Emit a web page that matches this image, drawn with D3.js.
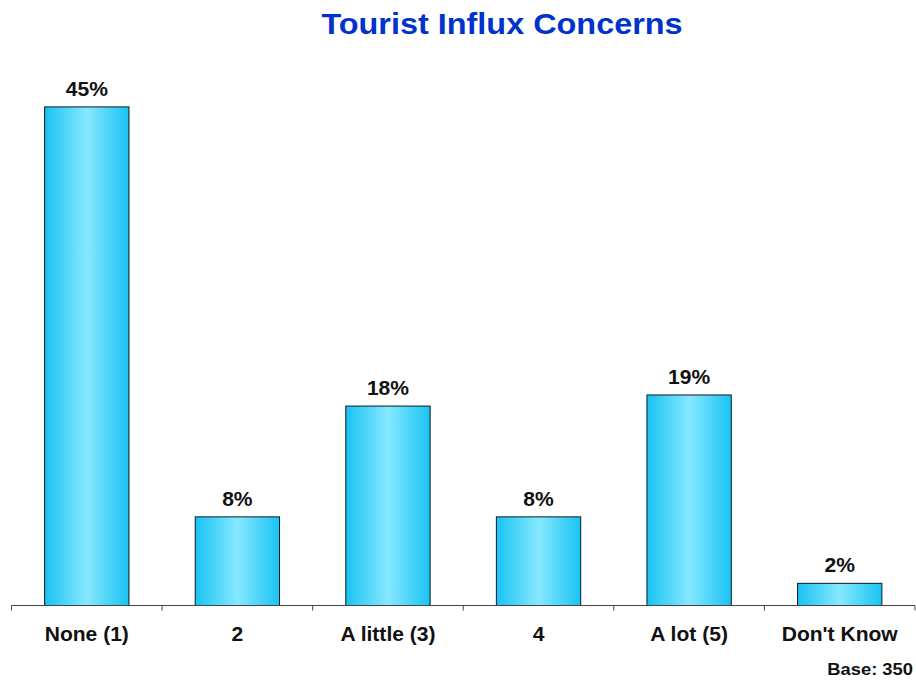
<!DOCTYPE html>
<html>
<head>
<meta charset="utf-8">
<script src="https://cdn.jsdelivr.net/npm/d3@7"></script>
<style>
  html, body { margin: 0; padding: 0; background: #fff; }
  svg { display: block; }
  text { font-family: "Liberation Sans", Arial, sans-serif; font-weight: bold; }
</style>
</head>
<body>
<svg id="chart" width="916" height="682"></svg>
<script>
// Survey responses: share of respondents by level of concern
const categories = ["None (1)", "2", "A little (3)", "4", "A lot (5)", "Don't Know"];
const values = [45, 8, 18, 8, 19, 2];
const valueLabels = ["45%", "8%", "18%", "8%", "19%", "2%"];
const title = "Tourist Influx Concerns";
const baseNote = "Base: 350";

const W = 916, H = 682;
const SX = 1.08; // slightly wide lettering
const svg = d3.select("#chart");

const x = d3.scaleBand()
  .domain(categories)
  .range([11.5, 915])
  .paddingInner(0.44)
  .paddingOuter(0.22);

const y = d3.scaleLinear()
  .domain([0, 50])
  .range([605.5, 51.5]);

// place a text element at (px, py) with horizontal stretch
const at = (px, py) => `translate(${px},${py}) scale(${SX},1)`;

// Horizontal cyan gradient for bars: saturated edges, light centre
const defs = svg.append("defs");
const grad = defs.append("linearGradient")
  .attr("id", "barGrad")
  .attr("x1", "0%").attr("x2", "100%")
  .attr("y1", "0%").attr("y2", "0%");
grad.append("stop").attr("offset", "0%").attr("stop-color", "#19c3f3");
grad.append("stop").attr("offset", "50%").attr("stop-color", "#86e8ff");
grad.append("stop").attr("offset", "100%").attr("stop-color", "#19c3f3");

// Title
svg.append("text")
  .attr("transform", at(502, 34))
  .attr("text-anchor", "middle")
  .attr("fill", "#0033cc")
  .style("font-size", "30px")
  .text(title);

// Bars
svg.selectAll("rect.bar")
  .data(categories)
  .join("rect")
  .attr("class", "bar")
  .attr("x", d => x(d))
  .attr("width", x.bandwidth())
  .attr("y", (d, i) => y(values[i]))
  .attr("height", (d, i) => y(0) - y(values[i]))
  .attr("fill", "url(#barGrad)")
  .attr("stroke", "#0a1a22")
  .attr("stroke-width", 1);

// Value labels above bars
svg.selectAll("text.val")
  .data(categories)
  .join("text")
  .attr("class", "val")
  .attr("transform", (d, i) => at(x(d) + x.bandwidth() / 2, y(values[i]) - 11))
  .attr("text-anchor", "middle")
  .attr("fill", "#111")
  .style("font-size", "19.5px")
  .text((d, i) => valueLabels[i]);

// X axis: baseline with ticks at category boundaries
const axisG = svg.append("g");
axisG.append("line")
  .attr("x1", 11.5).attr("x2", 915)
  .attr("y1", y(0)).attr("y2", y(0))
  .attr("stroke", "#444").attr("stroke-width", 1);

const boundaries = d3.range(categories.length + 1).map(i => 11.5 + i * (915 - 11.5) / categories.length);
axisG.selectAll("line.tick")
  .data(boundaries)
  .join("line")
  .attr("class", "tick")
  .attr("x1", d => d).attr("x2", d => d)
  .attr("y1", y(0)).attr("y2", y(0) + 5)
  .attr("stroke", "#444").attr("stroke-width", 1);

axisG.selectAll("text.cat")
  .data(categories)
  .join("text")
  .attr("class", "cat")
  .attr("transform", d => at(x(d) + x.bandwidth() / 2, 641))
  .attr("text-anchor", "middle")
  .attr("fill", "#111")
  .style("font-size", "19.5px")
  .text(d => d);

// Sample size note
svg.append("text")
  .attr("transform", at(913, 675))
  .attr("text-anchor", "end")
  .attr("fill", "#111")
  .style("font-size", "17px")
  .text(baseNote);
</script>
</body>
</html>
